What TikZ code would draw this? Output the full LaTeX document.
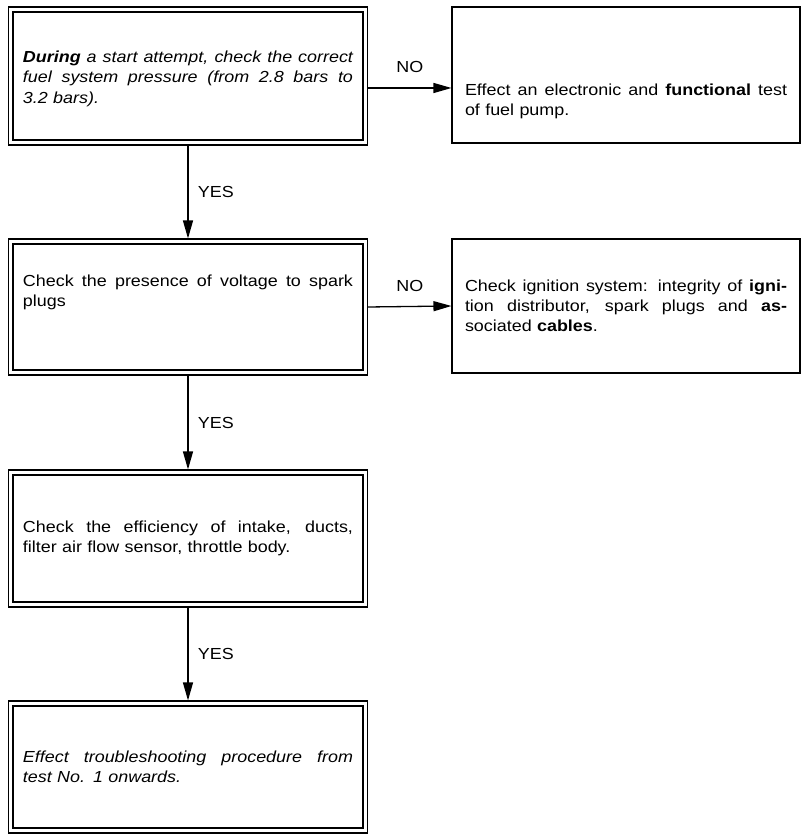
\documentclass[tikz,border=0pt]{standalone}
\usepackage{fontspec}
\setmainfont{Liberation Sans}[FakeStretch=1.12]
\usetikzlibrary{arrows.meta,positioning}

% line stretched to the full width of the box
\newcommand{\fullline}[1]{{\spaceskip=0pt\xspaceskip=0pt\makebox[\linewidth][s]{#1}}}

\tikzset{
  chkbox/.style={draw, line width=1.1pt, minimum width=359pt, minimum height=138pt,
    text width=330pt, inner xsep=14.5pt, align=left,
    font=\fontsize{16}{20.5}\selectfont},
  actbox/.style={draw, line width=1.1pt, minimum width=348pt, minimum height=135pt,
    text width=322pt, inner xsep=13pt, align=left,
    font=\fontsize{16}{20}\selectfont},
  arr/.style={line width=1.3pt, -{Triangle[length=18pt,width=10pt]}},
  lbl/.style={font=\fontsize{16}{18}\selectfont}
}

\begin{document}
\begin{tikzpicture}[x=1pt,y=1pt]
  \useasboundingbox (0,0) rectangle (801,835);

  %Kontrollen (links)
  \node[chkbox] (fuel) at (188,759) {\itshape
    \fullline{\rule{0pt}{17pt}\textbf{During} a start attempt, check the correct}\\
    \fullline{fuel system pressure (from 2.8 bars to}\\
    3.2 bars).};
  \node[chkbox, minimum height=136pt] (spark) at (188,528) {
    \fullline{Check the presence of voltage to spark}\\
    plugs\rule[-33pt]{0pt}{0pt}};
  \node[chkbox, minimum height=137pt] (intake) at (188,296.5) {
    \fullline{Check the efficiency of intake, ducts,}\\
    filter air flow sensor, throttle body.};
  \node[chkbox, minimum height=132pt] (restart) at (188,68) {\itshape
    \fullline{Effect troubleshooting procedure from}\\
    test No. 1 onwards.};

  %innerer Rahmen
  \foreach \n in {fuel,spark,intake,restart}
    \draw[line width=2pt] ([shift={(5.5pt,-5.5pt)}]\n.north west)
      rectangle ([shift={(-5.5pt,5.5pt)}]\n.south east);

  %Massnahmen (rechts)
  \node[actbox, minimum height=136pt] (pump) at (626,760) {
    \fullline{\rule{0pt}{64pt}Effect an electronic and \textbf{functional} test}\\
    of fuel pump.};
  \node[actbox, minimum height=134pt] (ign) at (626,529) {
    \fullline{Check ignition system: integrity of \textbf{igni-}}\\
    \fullline{tion distributor, spark plugs and \textbf{as-}}\\
    sociated \textbf{cables}.};

  %Pfeile NO
  \coordinate (no1) at ([yshift=-12pt]fuel.east);
  \draw[arr] (no1) -- node[lbl, above=11pt] {NO} (no1 -| pump.west);
  \draw[arr] (spark.east) -- node[lbl, above=11pt] {NO} (ign.west);

  %Pfeile YES
  \draw[arr] (fuel.south) -- node[lbl, right=6pt] {YES} (spark.north);
  \draw[arr] (spark.south) -- node[lbl, right=6pt] {YES} (intake.north);
  \draw[arr] (intake.south) -- node[lbl, right=6pt] {YES} (restart.north);
\end{tikzpicture}
\end{document}
